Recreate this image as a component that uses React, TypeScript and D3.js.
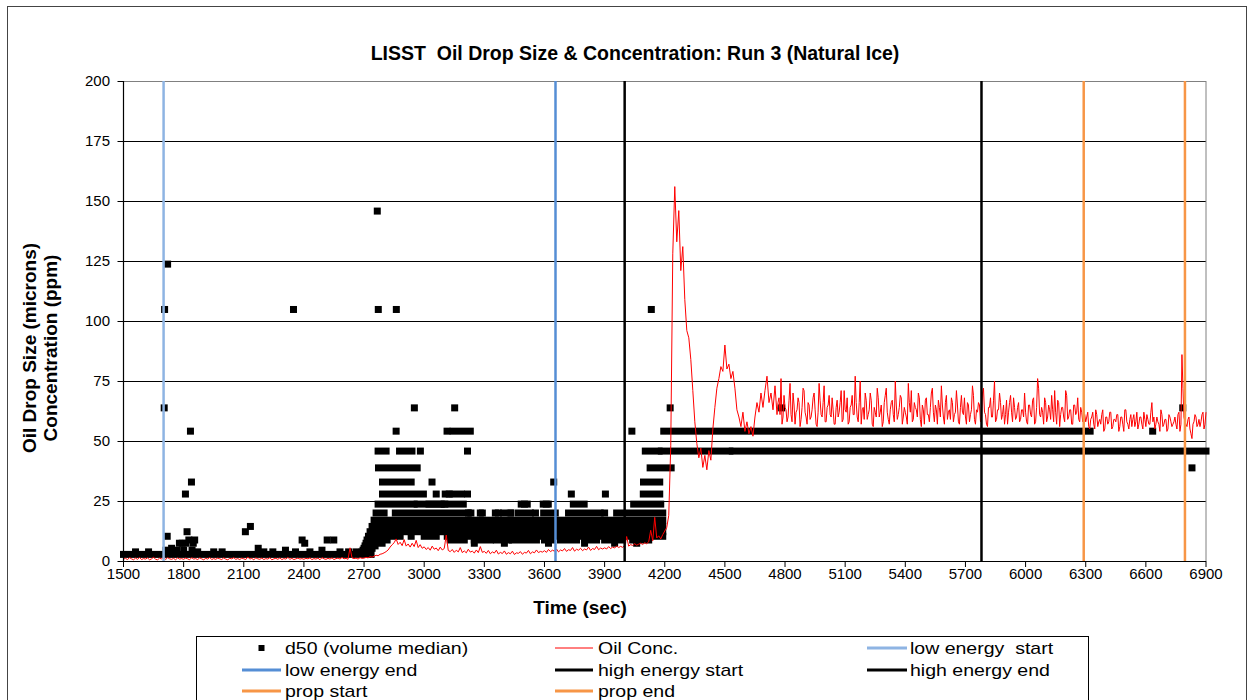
import React from 'react';
import * as d3 from 'd3';

const chartTitle = 'LISST  Oil Drop Size & Concentration: Run 3 (Natural Ice)';
const xTitle = 'Time (sec)';
const yTitleLines = ['Oil Drop Size (microns)', 'Concentration (ppm)'];
const xTicks = [1500, 1800, 2100, 2400, 2700, 3000, 3300, 3600, 3900, 4200, 4500, 4800, 5100, 5400, 5700, 6000, 6300, 6600, 6900];
const yTicks = [0, 25, 50, 75, 100, 125, 150, 175, 200];

// Oil concentration (ppm), one reading every 10 s from 1500 s
const concStart = 1500;
const concStep = 10;
const oilConc = [
  0.8,1.1,0.6,1.4,0.9,0.5,1.2,0.7,1.5,0.6,1.0,0.8,1.3,0.5,0.9,1.6,0.7,0.5,1.2,0.8,1.7,0.6,1.4,0.9,0.7,1.1,0.5,1.3,0.8,1.0,
  0.7,1.2,0.9,0.5,1.4,0.8,1.0,0.6,1.3,0.9,0.5,1.1,0.8,1.5,0.6,1.0,0.7,1.2,0.9,0.6,1.3,0.8,0.5,1.1,0.9,1.4,0.7,1.0,0.6,1.2,
  0.9,0.6,1.7,0.8,1.1,0.5,1.3,0.9,0.7,1.2,0.6,1.0,0.8,1.4,0.5,0.9,1.1,0.7,1.3,0.6,1.0,0.8,1.5,0.7,1.1,0.6,0.9,1.2,0.8,1.0,
  0.7,1.1,0.9,1.3,0.6,1.0,0.8,1.2,0.5,1.4,0.9,0.7,1.1,0.8,1.3,0.6,1.0,1.2,0.8,1.5,0.9,1.1,0.7,5.5,1.3,1.0,1.2,0.8,1.4,1.1,
  1.2,1.5,1.3,1.8,1.6,2.0,2.4,2.2,2.8,3.0,3.4,3.9,4.6,5.8,6.8,7.6,9.2,6.9,7.8,6.4,8.9,6.2,7.1,5.8,7.4,6.0,8.6,5.6,6.8,5.3,
  5.9,4.8,5.6,4.5,6.2,4.9,5.4,4.3,5.8,4.6,5.2,10.8,4.4,3.9,4.8,3.6,4.5,3.8,5.6,3.5,4.2,3.4,4.9,3.7,4.1,3.3,4.6,3.5,6.0,3.6,
  4.0,3.2,4.4,3.0,3.8,3.3,4.5,2.9,3.6,3.1,4.2,2.8,3.5,3.0,4.1,2.7,3.4,3.2,3.9,2.8,3.6,3.3,4.4,3.0,3.8,3.4,4.6,3.5,4.0,3.7,
  4.3,3.6,4.8,3.9,4.5,4.1,5.0,3.8,4.6,4.2,5.2,4.0,4.7,4.4,5.6,4.1,4.9,4.5,5.3,4.3,5.0,4.6,5.8,4.4,5.2,4.8,6.1,4.7,5.4,5.0,
  5.5,5.0,6.0,5.2,5.8,5.4,6.3,5.6,6.1,5.7,6.4,10.2,6.2,6.8,6.5,7.2,6.6,7.0,7.4,6.9,7.6,7.2,8.0,12.8,8.4,18.2,9.6,10.5,9.2,11.0,
  12.5,14.0,19,48,128,156,133,146,121,131,109,96,93,84,71,58,49,43,47,39,44,38,46,42,55,64,72,76,81,79,
  90,80,82,76,79,72,63,60,56,62,54,58,53,56,52,60,66,62,70,64,71,77,66,70,63,73,61,68,76,60,
  64,58,67,61,70,57,63,66,59,72,62,57,65,60,68,63,56,74,61,66,58,64,69,60,63,57,67,62,71,59,
  63,68,58,65,61,77,60,66,57,64,70,59,63,67,56,62,72,60,65,58,69,62,57,66,61,75,59,64,68,60,
  62,57,66,71,59,64,60,68,56,63,67,61,58,70,62,65,57,64,73,60,66,59,63,68,58,62,65,57,69,61,
  60,66,58,63,69,57,62,65,59,72,61,56,64,60,67,58,63,70,59,65,61,57,66,62,68,59,64,58,63,60,
  62,57,65,60,68,58,76,61,64,57,66,60,63,69,58,62,67,56,64,60,71,59,63,57,65,61,68,58,62,60,
  58,62,55,60,57,63,56,59,61,54,60,57,62,55,59,58,61,56,60,54,63,57,59,56,61,58,55,60,57,62,
  56,59,57,66,60,57,58,54,61,57,59,55,60,56,58,57,61,54,86,60,57,59,55,51,58,60,57,56,61,55,
  62,
];

// Oil concentration, in-between readings (every 10 s from 4765 s)
const concMidStart = 4765;
const oilConcMid = [
  66,61,57,69,63,60,74,58,65,62,68,56,64,71,60,66,59,63,70,57,62,67,60,73,58,65,61,68,57,64,
  60,66,58,71,62,57,64,69,61,66,58,75,63,59,67,61,70,57,64,60,68,62,56,66,72,59,63,67,58,65,
  61,69,57,64,60,74,62,58,66,63,70,59,65,57,68,61,64,72,58,63,67,60,65,57,69,62,59,66,61,71,
  58,64,62,68,57,65,61,73,59,63,66,58,70,62,57,64,68,60,75,59,63,66,61,57,67,62,69,58,64,60,
  66,59,63,70,58,65,61,67,57,64,72,60,62,68,58,65,59,63,71,57,66,61,64,58,69,60,63,57,65,62,
  59,64,58,61,
  60,56,59,62,55,61,58,57,63,55,60,58,62,56,59,61,54,60,57,63,58,55,61,59,56,62,57,60,55,59,
  61,57,62,58,55,60,57,63,56,59,54,61,58,57,60,55,62,57,72,58,56,60,53,57,61,56,59,58,62,57,
];

// d50: runs of consecutive readings held at one size bin (start s, end s, size µm)
const d50RunStart = [1500, 2690, 2695, 2700, 2705, 2710, 2715, 2722, 2730, 2740, 2750, 2856, 2760, 2770, 2965, 3100, 2792, 2792, 2772, 2770, 2877, 3144,
  3000, 3115, 3500, 3720, 3130, 3250, 3360, 3440, 3600, 3680, 3800, 3900, 4040,
  3470, 3596, 3720, 3960, 3744, 4045, 3484, 3594, 3024, 3140, 4093, 4094, 4127, 4103, 4183, 4537, 4195];
const d50RunEnd = [2735, 2725, 2730, 2740, 2755, 2790, 2815, 2850, 4190, 4190, 4190, 3215, 2800, 2950, 3085, 3195, 2996, 2935, 2965, 2810, 2939, 3230,
  3060, 3480, 3700, 4190, 3200, 3330, 3420, 3560, 3640, 3760, 3860, 3990, 4120,
  3530, 3654, 3878, 4190, 3798, 4180, 3514, 3619, 3103, 3185, 4175, 4175, 4232, 4172, 4525, 6900, 6322];
const d50RunSize = [2.75, 3.8, 4.5, 5.3, 6.3, 7.4, 8.75, 10.3, 12.2, 14.4, 17.0, 20.0, 20.0, 23.7, 23.7, 23.7, 27.9, 32.9, 38.8, 45.8, 45.8, 54.1,
  10.3, 10.3, 10.3, 10.3, 8.75, 8.75, 8.75, 8.75, 8.75, 8.75, 8.75, 8.75, 8.75,
  20.0, 20.0, 20.0, 20.0, 23.7, 23.7, 23.7, 23.7, 23.7, 27.9, 27.9, 32.9, 38.8, 45.8, 45.8, 45.8, 54.1];

// d50: single readings (time s, size µm)
const d50PointTime = [1560, 1625, 1703, 1705, 1720, 1718, 1712, 1740, 1765, 1779, 1793, 1800, 1812, 1809, 1817, 1826, 1834, 1839, 1842, 1848, 1855,
  1870, 1950, 1992, 2108, 2133, 2172, 2200, 2245, 2308, 2348, 2358, 2391, 2404, 2430, 2490, 2516, 2549, 2580, 2623, 2660,
  2766, 2771, 2861, 2860, 2951, 3152, 3114, 2981, 3216, 3039, 3060, 3105, 3125, 3216, 2880, 2935,
  3221, 3233, 3280, 3290, 3355, 3370, 3396, 3430, 3433, 3555, 3900, 3500, 3609, 3646, 3734, 3904,
  3250, 3400, 3620, 3800, 3950, 4060, 4036, 4133, 4227, 4783, 6634, 6784, 6830];
const d50PointSize = [3.8, 3.8, 63.8, 104.8, 123.7, 10.3, 4.5, 5.3, 4.5, 7.4, 7.4, 4.5, 7.4, 27.9, 12.2, 8.75, 54.1, 32.9, 4.5, 7.4, 8.75,
  3.8, 3.8, 3.8, 12.2, 14.4, 5.3, 3.8, 3.8, 4.5, 104.8, 3.8, 8.75, 7.4, 3.8, 4.5, 8.75, 8.75, 3.8, 3.8, 3.8,
  145.8, 104.8, 104.8, 54.1, 63.8, 63.8, 54.1, 45.8, 45.8, 32.9, 27.9, 27.9, 27.9, 27.9, 10.3, 10.3,
  20.0, 20.0, 20.0, 20.0, 20.0, 20.0, 20.0, 20.0, 20.0, 20.0, 20.0, 23.7, 23.7, 32.9, 27.9, 27.9,
  7.4, 7.4, 7.4, 7.4, 7.4, 7.4, 54.1, 104.8, 63.8, 63.8, 54.1, 63.8, 38.8];

const legendNames = ['d50 (volume median)', 'Oil Conc.', 'low energy  start', 'low energy end', 'high energy start', 'high energy end', 'prop start', 'prop end'];
const eventTimes = [1700, 3655, 4000, 5780, 6290, 6795];
const eventColors = ['#8EB4E3', '#558ED5', '#000000', '#000000', '#F79646', '#F79646'];

const FONT = '"Liberation Sans", Arial, Helvetica, sans-serif';

export default function App() {
  const W = 1255, H = 700;
  const x = d3.scaleLinear().domain([1500, 6900]).range([123.5, 1206]);
  const y = d3.scaleLinear().domain([0, 200]).range([561, 81]);

  const concData = oilConc
    .map((v, i) => [concStart + i * concStep, v] as [number, number])
    .concat(oilConcMid.map((v, i) => [concMidStart + i * concStep, v] as [number, number]))
    .sort((a, b) => a[0] - b[0]);
  const line = d3.line<[number, number]>().x(d => x(d[0])).y(d => y(d[1]));

  const m = 3.5; // half marker size
  const left = x(1500), right = x(6900), top = y(200), bottom = y(0);

  const legendCols = [
    { lx1: 242, lx2: 281, tx: 285 },
    { lx1: 555, lx2: 593, tx: 598 },
    { lx1: 867, lx2: 907, tx: 910 },
  ];
  const legendRows = [648, 670, 691];

  return (
    <svg width={W} height={H} style={{ position: 'absolute', left: 0, top: 0, background: '#fff', fontFamily: FONT }}>
      <rect x={0} y={0} width={W} height={H} fill="#fff" />
      <rect x={7.5} y={6.5} width={1239} height={740} fill="none" stroke="#444" strokeWidth={1} />
      <text x={635} y={60} textAnchor="middle" fontSize={19.5} fontWeight="bold" style={{ whiteSpace: 'pre' }}>{chartTitle}</text>

      {/* gridlines */}
      {yTicks.map(t => (
        <line key={'g' + t} x1={left} x2={right} y1={Math.round(y(t)) + 0.5} y2={Math.round(y(t)) + 0.5}
          stroke={t === 200 ? '#808080' : '#000'} strokeWidth={1} />
      ))}
      <line x1={right} x2={right} y1={top} y2={bottom} stroke="#808080" strokeWidth={1} />

      {/* d50 runs */}
      {d50RunSize.map((v, i) => (
        <rect key={'r' + i} x={x(d50RunStart[i]) - m} y={y(v) - m}
          width={x(d50RunEnd[i]) - x(d50RunStart[i]) + 2 * m} height={2 * m} fill="#000" />
      ))}
      {/* d50 single points */}
      {d50PointSize.map((v, i) => (
        <rect key={'p' + i} x={x(d50PointTime[i]) - m} y={y(v) - m} width={2 * m} height={2 * m} fill="#000" />
      ))}

      {/* oil concentration */}
      <path d={line(concData) || ''} fill="none" stroke="#FF0000" strokeWidth={1} />

      {/* event lines */}
      {eventTimes.map((t, i) => (
        <line key={'e' + i} x1={x(t)} x2={x(t)} y1={top} y2={bottom} stroke={eventColors[i]} strokeWidth={2.5} />
      ))}

      {/* axes */}
      <line x1={left} x2={left} y1={top} y2={bottom + 0.5} stroke="#000" strokeWidth={1.2} />
      <line x1={left} x2={right} y1={bottom + 0.5} y2={bottom + 0.5} stroke="#000" strokeWidth={1.2} />
      {yTicks.map(t => (
        <g key={'yt' + t}>
          <line x1={left - 6} x2={left} y1={Math.round(y(t)) + 0.5} y2={Math.round(y(t)) + 0.5} stroke="#000" />
          <text x={110} y={y(t) + 5} textAnchor="end" fontSize={15}>{t}</text>
        </g>
      ))}
      {xTicks.map(t => (
        <g key={'xt' + t}>
          <line x1={x(t)} x2={x(t)} y1={bottom} y2={bottom + 6} stroke="#000" />
          <text x={x(t)} y={579} textAnchor="middle" fontSize={15}>{t}</text>
        </g>
      ))}
      <text x={580} y={614} textAnchor="middle" fontSize={19} fontWeight="bold">{xTitle}</text>
      <g transform="translate(36,348) rotate(-90)">
        <text x={0} y={0} textAnchor="middle" fontSize={19} fontWeight="bold">{yTitleLines[0]}</text>
      </g>
      <g transform="translate(57,348) rotate(-90)">
        <text x={0} y={0} textAnchor="middle" fontSize={19} fontWeight="bold">{yTitleLines[1]}</text>
      </g>

      {/* legend */}
      <rect x={196.5} y={636.5} width={892} height={100} fill="#fff" stroke="#000" strokeWidth={1} />
      {legendNames.map((name, i) => {
        const col = legendCols[i % 3];
        const cy = legendRows[Math.floor(i / 3)];
        let sym: React.ReactNode;
        if (i === 0) {
          sym = <rect x={(col.lx1 + col.lx2) / 2 - 3} y={cy - 3} width={6} height={6} fill="#000" />;
        } else if (i === 1) {
          sym = <line x1={col.lx1} x2={col.lx2} y1={cy} y2={cy} stroke="#FF0000" strokeWidth={1} />;
        } else {
          sym = <line x1={col.lx1} x2={col.lx2} y1={cy} y2={cy} stroke={eventColors[i - 2]} strokeWidth={3} />;
        }
        return (
          <g key={'l' + i}>
            {sym}
            <g transform={`translate(${col.tx},${cy + 6}) scale(1.22,1)`}>
              <text x={0} y={0} fontSize={16} style={{ whiteSpace: 'pre' }}>{name}</text>
            </g>
          </g>
        );
      })}
    </svg>
  );
}
